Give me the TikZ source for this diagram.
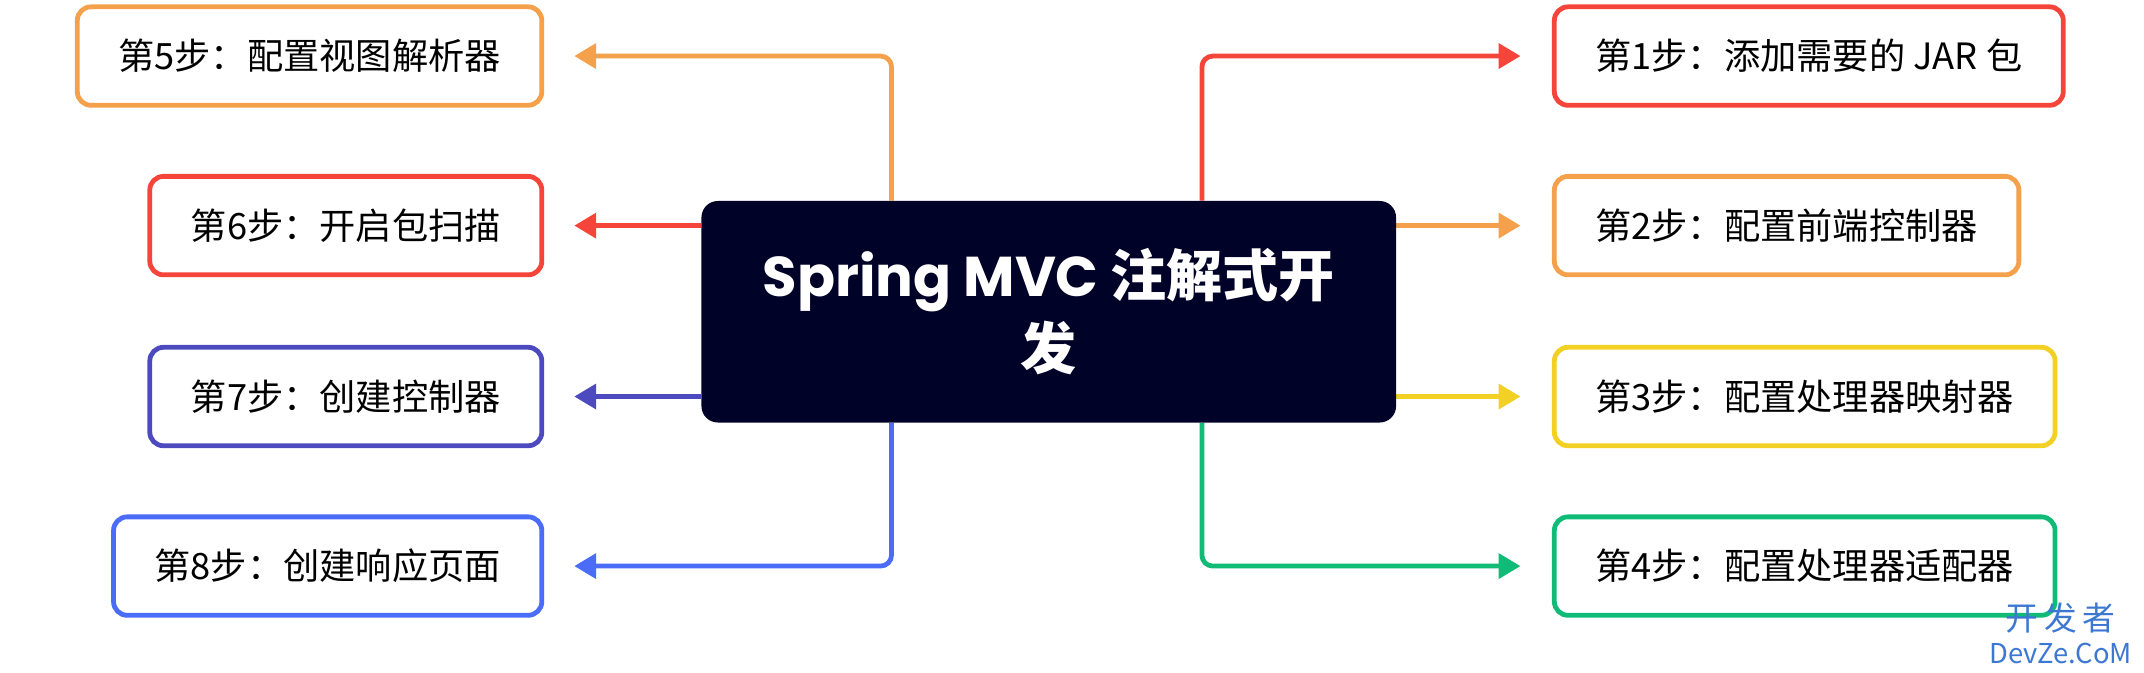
\documentclass[tikz,border=0pt]{standalone}
\usepackage{fontspec}
\setmainfont{Noto Sans CJK SC}
\newfontfamily\poppins{Poppins}
\usepackage{xcolor}
\usepackage{tikz}
\usetikzlibrary{positioning, backgrounds, arrows.meta}

\definecolor{stepred}{RGB}{245,68,58}
\definecolor{steporange}{RGB}{245,160,75}
\definecolor{stepyellow}{RGB}{242,208,36}
\definecolor{stepgreen}{RGB}{16,187,120}
\definecolor{stepindigo}{RGB}{76,74,190}
\definecolor{stepblue}{RGB}{74,108,247}
\definecolor{titlenavy}{RGB}{1,2,40}
\definecolor{markblue}{RGB}{60,120,210}

\tikzset{
    stepbox/.style={draw=#1, line width=3.5pt, rounded corners=10pt, fill=white,
        minimum height=72pt, inner xsep=30pt, font=\fontsize{26.5}{31}\selectfont},
    link/.style={draw=#1, line width=3.5pt, rounded corners=8pt,
        -{Triangle[length=16pt,width=18pt]}},
}

\begin{document}
\begin{tikzpicture}[x=1pt, y=-1pt]

        \useasboundingbox (0,0) rectangle (1568,491.5);

        % centre
        \node [fill=titlenavy, rounded corners=12pt, minimum width=508pt, minimum height=162pt,
            align=center, text=white, font=\fontsize{41}{53}\selectfont\bfseries] (mvc) at (767,228)
            {{\poppins\bfseries Spring MVC }注解式开\\发};

        % right side
        \node [stepbox=stepred, anchor=west] (s1) at (1135,41) {第1步：添加需要的 JAR 包};
        \node [stepbox=steporange, anchor=west] (s2) at (1135,165) {第2步：配置前端控制器};
        \node [stepbox=stepyellow, anchor=west] (s3) at (1135,290) {第3步：配置处理器映射器};
        \node [stepbox=stepgreen, anchor=west] (s4) at (1135,414) {第4步：配置处理器适配器};

        % left side
        \node [stepbox=steporange, anchor=east] (s5) at (398,41) {第5步：配置视图解析器};
        \node [stepbox=stepred, anchor=east] (s6) at (398,165) {第6步：开启包扫描};
        \node [stepbox=stepindigo, anchor=east] (s7) at (398,290) {第7步：创建控制器};
        \node [stepbox=stepblue, anchor=east] (s8) at (398,414) {第8步：创建响应页面};

        \begin{scope}[on background layer]
            \draw [link=stepred, shorten >=23pt] ([xshift=112pt]mvc.north) |- (s1.west);
            \draw [link=steporange, shorten >=23pt] (mvc.east |- s2.west) -- (s2.west);
            \draw [link=stepyellow, shorten >=23pt] (mvc.east |- s3.west) -- (s3.west);
            \draw [link=stepgreen, shorten >=23pt] ([xshift=112pt]mvc.south) |- (s4.west);

            \draw [link=steporange, shorten >=22pt] ([xshift=-115pt]mvc.north) |- (s5.east);
            \draw [link=stepred, shorten >=22pt] (mvc.west |- s6.east) -- (s6.east);
            \draw [link=stepindigo, shorten >=22pt] (mvc.west |- s7.east) -- (s7.east);
            \draw [link=stepblue, shorten >=22pt] ([xshift=-115pt]mvc.south) |- (s8.east);
        \end{scope}

        % site mark
        \node [text=markblue, font=\fontsize{24}{26}\selectfont, align=center, inner sep=0pt]
            (mark) at (1507,463) {开\,发\,者\\[-2pt]{\fontsize{20}{20}\selectfont DevZe.CoM}};

\end{tikzpicture}
\end{document}
